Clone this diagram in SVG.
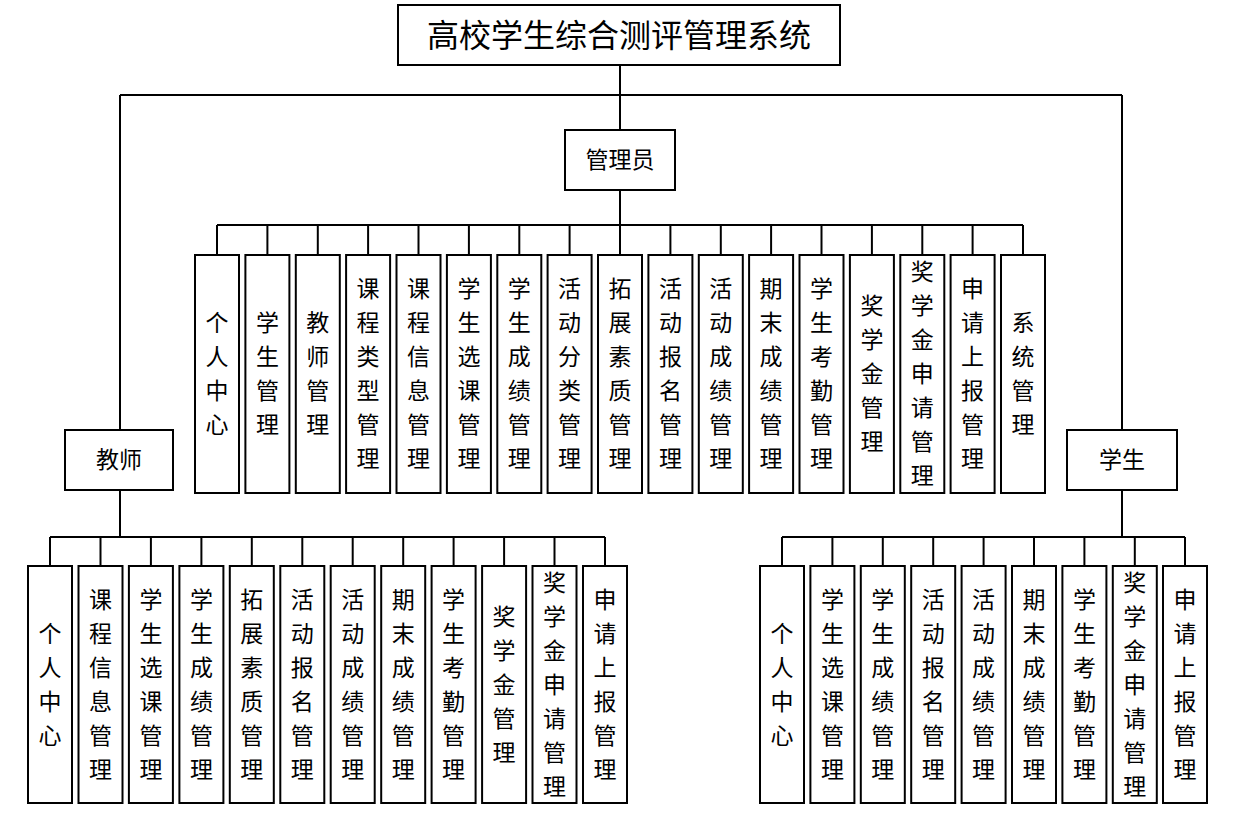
<svg xmlns="http://www.w3.org/2000/svg" width="1250" height="830" viewBox="0 0 1250 830">
<style>
rect{fill:#fff;stroke:#000;stroke-width:2}
text{font-family:"Noto Sans CJK SC",sans-serif;font-size:23px;fill:#000;text-anchor:middle}
.c line{stroke:#000;stroke-width:2}
</style>
<rect width="1250" height="830" style="stroke:none"/>
<g class="c" id="connectors">
<line x1="620" y1="65" x2="620" y2="130"/>
<line x1="120" y1="95" x2="1122" y2="95"/>
<line x1="120" y1="95" x2="120" y2="430"/>
<line x1="1122" y1="95" x2="1122" y2="430"/>
<line x1="620" y1="190" x2="620" y2="225"/>
<line x1="217" y1="225" x2="1023" y2="225"/>
<line x1="120" y1="490" x2="120" y2="537"/>
<line x1="50" y1="537" x2="605" y2="537"/>
<line x1="1122" y1="490" x2="1122" y2="537"/>
<line x1="782" y1="537" x2="1185" y2="537"/>
<line x1="217" y1="225" x2="217" y2="255"/><line x1="267.4" y1="225" x2="267.4" y2="255"/><line x1="317.8" y1="225" x2="317.8" y2="255"/><line x1="368.1" y1="225" x2="368.1" y2="255"/><line x1="418.5" y1="225" x2="418.5" y2="255"/><line x1="468.9" y1="225" x2="468.9" y2="255"/><line x1="519.3" y1="225" x2="519.3" y2="255"/><line x1="569.6" y1="225" x2="569.6" y2="255"/><line x1="620" y1="225" x2="620" y2="255"/><line x1="670.4" y1="225" x2="670.4" y2="255"/><line x1="720.8" y1="225" x2="720.8" y2="255"/><line x1="771.1" y1="225" x2="771.1" y2="255"/><line x1="821.5" y1="225" x2="821.5" y2="255"/><line x1="871.9" y1="225" x2="871.9" y2="255"/><line x1="922.3" y1="225" x2="922.3" y2="255"/><line x1="972.6" y1="225" x2="972.6" y2="255"/><line x1="1023" y1="225" x2="1023" y2="255"/>
<line x1="50" y1="537" x2="50" y2="566"/><line x1="100.5" y1="537" x2="100.5" y2="566"/><line x1="150.9" y1="537" x2="150.9" y2="566"/><line x1="201.4" y1="537" x2="201.4" y2="566"/><line x1="251.8" y1="537" x2="251.8" y2="566"/><line x1="302.3" y1="537" x2="302.3" y2="566"/><line x1="352.7" y1="537" x2="352.7" y2="566"/><line x1="403.2" y1="537" x2="403.2" y2="566"/><line x1="453.6" y1="537" x2="453.6" y2="566"/><line x1="504.1" y1="537" x2="504.1" y2="566"/><line x1="554.5" y1="537" x2="554.5" y2="566"/><line x1="605" y1="537" x2="605" y2="566"/>
<line x1="782" y1="537" x2="782" y2="566"/><line x1="832.4" y1="537" x2="832.4" y2="566"/><line x1="882.8" y1="537" x2="882.8" y2="566"/><line x1="933.2" y1="537" x2="933.2" y2="566"/><line x1="983.6" y1="537" x2="983.6" y2="566"/><line x1="1034" y1="537" x2="1034" y2="566"/><line x1="1084.4" y1="537" x2="1084.4" y2="566"/><line x1="1134.8" y1="537" x2="1134.8" y2="566"/><line x1="1185" y1="537" x2="1185" y2="566"/>
</g>
<g id="root"><rect x="398" y="5" width="442" height="60"/><text x="619" y="47" style="font-size:32px">高校学生综合测评管理系统</text></g>
<g id="admin"><rect x="565" y="130" width="110" height="60"/><text x="620" y="168">管理员</text></g>
<g id="teacher"><rect x="65" y="430" width="108" height="60"/><text x="119" y="468">教师</text></g>
<g id="student"><rect x="1067" y="430" width="110" height="60"/><text x="1122" y="468">学生</text></g>

<g id="a1"><rect x="195" y="255" width="44" height="238"/><text y="331"><tspan x="217">个</tspan><tspan x="217" dy="34">人</tspan><tspan x="217" dy="34">中</tspan><tspan x="217" dy="34">心</tspan></text></g>
<g id="a2"><rect x="245.4" y="255" width="44" height="238"/><text y="331"><tspan x="267.4">学</tspan><tspan x="267.4" dy="34">生</tspan><tspan x="267.4" dy="34">管</tspan><tspan x="267.4" dy="34">理</tspan></text></g>
<g id="a3"><rect x="295.8" y="255" width="44" height="238"/><text y="331"><tspan x="317.8">教</tspan><tspan x="317.8" dy="34">师</tspan><tspan x="317.8" dy="34">管</tspan><tspan x="317.8" dy="34">理</tspan></text></g>
<g id="a4"><rect x="346.1" y="255" width="44" height="238"/><text y="297"><tspan x="368.1">课</tspan><tspan x="368.1" dy="34">程</tspan><tspan x="368.1" dy="34">类</tspan><tspan x="368.1" dy="34">型</tspan><tspan x="368.1" dy="34">管</tspan><tspan x="368.1" dy="34">理</tspan></text></g>
<g id="a5"><rect x="396.5" y="255" width="44" height="238"/><text y="297"><tspan x="418.5">课</tspan><tspan x="418.5" dy="34">程</tspan><tspan x="418.5" dy="34">信</tspan><tspan x="418.5" dy="34">息</tspan><tspan x="418.5" dy="34">管</tspan><tspan x="418.5" dy="34">理</tspan></text></g>
<g id="a6"><rect x="446.9" y="255" width="44" height="238"/><text y="297"><tspan x="468.9">学</tspan><tspan x="468.9" dy="34">生</tspan><tspan x="468.9" dy="34">选</tspan><tspan x="468.9" dy="34">课</tspan><tspan x="468.9" dy="34">管</tspan><tspan x="468.9" dy="34">理</tspan></text></g>
<g id="a7"><rect x="497.3" y="255" width="44" height="238"/><text y="297"><tspan x="519.3">学</tspan><tspan x="519.3" dy="34">生</tspan><tspan x="519.3" dy="34">成</tspan><tspan x="519.3" dy="34">绩</tspan><tspan x="519.3" dy="34">管</tspan><tspan x="519.3" dy="34">理</tspan></text></g>
<g id="a8"><rect x="547.6" y="255" width="44" height="238"/><text y="297"><tspan x="569.6">活</tspan><tspan x="569.6" dy="34">动</tspan><tspan x="569.6" dy="34">分</tspan><tspan x="569.6" dy="34">类</tspan><tspan x="569.6" dy="34">管</tspan><tspan x="569.6" dy="34">理</tspan></text></g>
<g id="a9"><rect x="598" y="255" width="44" height="238"/><text y="297"><tspan x="620">拓</tspan><tspan x="620" dy="34">展</tspan><tspan x="620" dy="34">素</tspan><tspan x="620" dy="34">质</tspan><tspan x="620" dy="34">管</tspan><tspan x="620" dy="34">理</tspan></text></g>
<g id="a10"><rect x="648.4" y="255" width="44" height="238"/><text y="297"><tspan x="670.4">活</tspan><tspan x="670.4" dy="34">动</tspan><tspan x="670.4" dy="34">报</tspan><tspan x="670.4" dy="34">名</tspan><tspan x="670.4" dy="34">管</tspan><tspan x="670.4" dy="34">理</tspan></text></g>
<g id="a11"><rect x="698.8" y="255" width="44" height="238"/><text y="297"><tspan x="720.8">活</tspan><tspan x="720.8" dy="34">动</tspan><tspan x="720.8" dy="34">成</tspan><tspan x="720.8" dy="34">绩</tspan><tspan x="720.8" dy="34">管</tspan><tspan x="720.8" dy="34">理</tspan></text></g>
<g id="a12"><rect x="749.1" y="255" width="44" height="238"/><text y="297"><tspan x="771.1">期</tspan><tspan x="771.1" dy="34">末</tspan><tspan x="771.1" dy="34">成</tspan><tspan x="771.1" dy="34">绩</tspan><tspan x="771.1" dy="34">管</tspan><tspan x="771.1" dy="34">理</tspan></text></g>
<g id="a13"><rect x="799.5" y="255" width="44" height="238"/><text y="297"><tspan x="821.5">学</tspan><tspan x="821.5" dy="34">生</tspan><tspan x="821.5" dy="34">考</tspan><tspan x="821.5" dy="34">勤</tspan><tspan x="821.5" dy="34">管</tspan><tspan x="821.5" dy="34">理</tspan></text></g>
<g id="a14"><rect x="849.9" y="255" width="44" height="238"/><text y="314"><tspan x="871.9">奖</tspan><tspan x="871.9" dy="34">学</tspan><tspan x="871.9" dy="34">金</tspan><tspan x="871.9" dy="34">管</tspan><tspan x="871.9" dy="34">理</tspan></text></g>
<g id="a15"><rect x="900.3" y="255" width="44" height="238"/><text y="280"><tspan x="922.3">奖</tspan><tspan x="922.3" dy="34">学</tspan><tspan x="922.3" dy="34">金</tspan><tspan x="922.3" dy="34">申</tspan><tspan x="922.3" dy="34">请</tspan><tspan x="922.3" dy="34">管</tspan><tspan x="922.3" dy="34">理</tspan></text></g>
<g id="a16"><rect x="950.6" y="255" width="44" height="238"/><text y="297"><tspan x="972.6">申</tspan><tspan x="972.6" dy="34">请</tspan><tspan x="972.6" dy="34">上</tspan><tspan x="972.6" dy="34">报</tspan><tspan x="972.6" dy="34">管</tspan><tspan x="972.6" dy="34">理</tspan></text></g>
<g id="a17"><rect x="1001" y="255" width="44" height="238"/><text y="331"><tspan x="1023">系</tspan><tspan x="1023" dy="34">统</tspan><tspan x="1023" dy="34">管</tspan><tspan x="1023" dy="34">理</tspan></text></g>

<g id="t1"><rect x="28" y="566" width="44" height="237"/><text y="642"><tspan x="50">个</tspan><tspan x="50" dy="34">人</tspan><tspan x="50" dy="34">中</tspan><tspan x="50" dy="34">心</tspan></text></g>
<g id="t2"><rect x="78.5" y="566" width="44" height="237"/><text y="608"><tspan x="100.5">课</tspan><tspan x="100.5" dy="34">程</tspan><tspan x="100.5" dy="34">信</tspan><tspan x="100.5" dy="34">息</tspan><tspan x="100.5" dy="34">管</tspan><tspan x="100.5" dy="34">理</tspan></text></g>
<g id="t3"><rect x="128.9" y="566" width="44" height="237"/><text y="608"><tspan x="150.9">学</tspan><tspan x="150.9" dy="34">生</tspan><tspan x="150.9" dy="34">选</tspan><tspan x="150.9" dy="34">课</tspan><tspan x="150.9" dy="34">管</tspan><tspan x="150.9" dy="34">理</tspan></text></g>
<g id="t4"><rect x="179.4" y="566" width="44" height="237"/><text y="608"><tspan x="201.4">学</tspan><tspan x="201.4" dy="34">生</tspan><tspan x="201.4" dy="34">成</tspan><tspan x="201.4" dy="34">绩</tspan><tspan x="201.4" dy="34">管</tspan><tspan x="201.4" dy="34">理</tspan></text></g>
<g id="t5"><rect x="229.8" y="566" width="44" height="237"/><text y="608"><tspan x="251.8">拓</tspan><tspan x="251.8" dy="34">展</tspan><tspan x="251.8" dy="34">素</tspan><tspan x="251.8" dy="34">质</tspan><tspan x="251.8" dy="34">管</tspan><tspan x="251.8" dy="34">理</tspan></text></g>
<g id="t6"><rect x="280.3" y="566" width="44" height="237"/><text y="608"><tspan x="302.3">活</tspan><tspan x="302.3" dy="34">动</tspan><tspan x="302.3" dy="34">报</tspan><tspan x="302.3" dy="34">名</tspan><tspan x="302.3" dy="34">管</tspan><tspan x="302.3" dy="34">理</tspan></text></g>
<g id="t7"><rect x="330.7" y="566" width="44" height="237"/><text y="608"><tspan x="352.7">活</tspan><tspan x="352.7" dy="34">动</tspan><tspan x="352.7" dy="34">成</tspan><tspan x="352.7" dy="34">绩</tspan><tspan x="352.7" dy="34">管</tspan><tspan x="352.7" dy="34">理</tspan></text></g>
<g id="t8"><rect x="381.2" y="566" width="44" height="237"/><text y="608"><tspan x="403.2">期</tspan><tspan x="403.2" dy="34">末</tspan><tspan x="403.2" dy="34">成</tspan><tspan x="403.2" dy="34">绩</tspan><tspan x="403.2" dy="34">管</tspan><tspan x="403.2" dy="34">理</tspan></text></g>
<g id="t9"><rect x="431.6" y="566" width="44" height="237"/><text y="608"><tspan x="453.6">学</tspan><tspan x="453.6" dy="34">生</tspan><tspan x="453.6" dy="34">考</tspan><tspan x="453.6" dy="34">勤</tspan><tspan x="453.6" dy="34">管</tspan><tspan x="453.6" dy="34">理</tspan></text></g>
<g id="t10"><rect x="482.1" y="566" width="44" height="237"/><text y="625"><tspan x="504.1">奖</tspan><tspan x="504.1" dy="34">学</tspan><tspan x="504.1" dy="34">金</tspan><tspan x="504.1" dy="34">管</tspan><tspan x="504.1" dy="34">理</tspan></text></g>
<g id="t11"><rect x="532.5" y="566" width="44" height="237"/><text y="591"><tspan x="554.5">奖</tspan><tspan x="554.5" dy="34">学</tspan><tspan x="554.5" dy="34">金</tspan><tspan x="554.5" dy="34">申</tspan><tspan x="554.5" dy="34">请</tspan><tspan x="554.5" dy="34">管</tspan><tspan x="554.5" dy="34">理</tspan></text></g>
<g id="t12"><rect x="583" y="566" width="44" height="237"/><text y="608"><tspan x="605">申</tspan><tspan x="605" dy="34">请</tspan><tspan x="605" dy="34">上</tspan><tspan x="605" dy="34">报</tspan><tspan x="605" dy="34">管</tspan><tspan x="605" dy="34">理</tspan></text></g>

<g id="s1"><rect x="760" y="566" width="44" height="237"/><text y="642"><tspan x="782">个</tspan><tspan x="782" dy="34">人</tspan><tspan x="782" dy="34">中</tspan><tspan x="782" dy="34">心</tspan></text></g>
<g id="s2"><rect x="810.4" y="566" width="44" height="237"/><text y="608"><tspan x="832.4">学</tspan><tspan x="832.4" dy="34">生</tspan><tspan x="832.4" dy="34">选</tspan><tspan x="832.4" dy="34">课</tspan><tspan x="832.4" dy="34">管</tspan><tspan x="832.4" dy="34">理</tspan></text></g>
<g id="s3"><rect x="860.8" y="566" width="44" height="237"/><text y="608"><tspan x="882.8">学</tspan><tspan x="882.8" dy="34">生</tspan><tspan x="882.8" dy="34">成</tspan><tspan x="882.8" dy="34">绩</tspan><tspan x="882.8" dy="34">管</tspan><tspan x="882.8" dy="34">理</tspan></text></g>
<g id="s4"><rect x="911.2" y="566" width="44" height="237"/><text y="608"><tspan x="933.2">活</tspan><tspan x="933.2" dy="34">动</tspan><tspan x="933.2" dy="34">报</tspan><tspan x="933.2" dy="34">名</tspan><tspan x="933.2" dy="34">管</tspan><tspan x="933.2" dy="34">理</tspan></text></g>
<g id="s5"><rect x="961.6" y="566" width="44" height="237"/><text y="608"><tspan x="983.6">活</tspan><tspan x="983.6" dy="34">动</tspan><tspan x="983.6" dy="34">成</tspan><tspan x="983.6" dy="34">绩</tspan><tspan x="983.6" dy="34">管</tspan><tspan x="983.6" dy="34">理</tspan></text></g>
<g id="s6"><rect x="1012" y="566" width="44" height="237"/><text y="608"><tspan x="1034">期</tspan><tspan x="1034" dy="34">末</tspan><tspan x="1034" dy="34">成</tspan><tspan x="1034" dy="34">绩</tspan><tspan x="1034" dy="34">管</tspan><tspan x="1034" dy="34">理</tspan></text></g>
<g id="s7"><rect x="1062.4" y="566" width="44" height="237"/><text y="608"><tspan x="1084.4">学</tspan><tspan x="1084.4" dy="34">生</tspan><tspan x="1084.4" dy="34">考</tspan><tspan x="1084.4" dy="34">勤</tspan><tspan x="1084.4" dy="34">管</tspan><tspan x="1084.4" dy="34">理</tspan></text></g>
<g id="s8"><rect x="1112.8" y="566" width="44" height="237"/><text y="591"><tspan x="1134.8">奖</tspan><tspan x="1134.8" dy="34">学</tspan><tspan x="1134.8" dy="34">金</tspan><tspan x="1134.8" dy="34">申</tspan><tspan x="1134.8" dy="34">请</tspan><tspan x="1134.8" dy="34">管</tspan><tspan x="1134.8" dy="34">理</tspan></text></g>
<g id="s9"><rect x="1163" y="566" width="44" height="237"/><text y="608"><tspan x="1185">申</tspan><tspan x="1185" dy="34">请</tspan><tspan x="1185" dy="34">上</tspan><tspan x="1185" dy="34">报</tspan><tspan x="1185" dy="34">管</tspan><tspan x="1185" dy="34">理</tspan></text></g>
</svg>
